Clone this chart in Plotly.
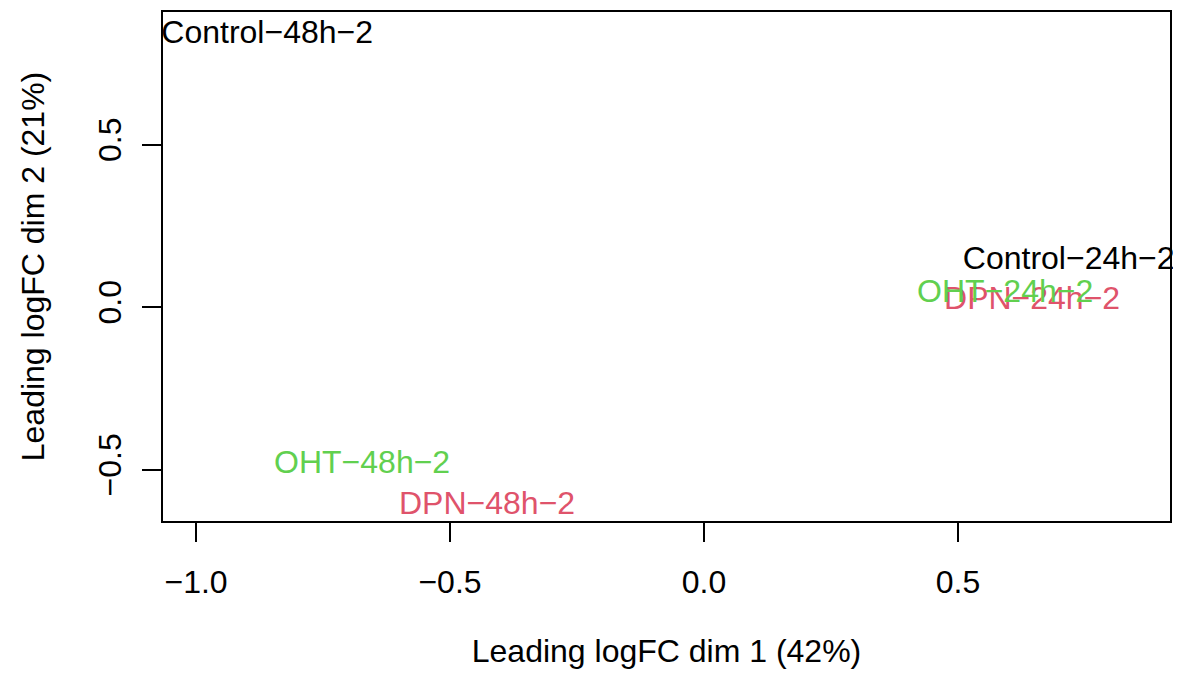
import plotly.graph_objects as go

labels = ["Control−24h−2", "Control−48h−2", "DPN−24h−2", "DPN−48h−2", "OHT−24h−2", "OHT−48h−2"]
dim1 = [0.718, -0.860, 0.646, -0.427, 0.593, -0.673]
dim2 = [0.142, 0.837, 0.019, -0.611, 0.040, -0.485]
colors = ["#000000", "#000000", "#DF536B", "#DF536B", "#61D04F", "#61D04F"]

FONT = "Liberation Sans, Arial, sans-serif"
FS = 32

fig = go.Figure()
fig.add_trace(go.Scatter(
    x=dim1, y=dim2, mode="text", text=labels,
    textposition="middle center",
    textfont=dict(family=FONT, size=FS, color=colors),
    cliponaxis=False, hoverinfo="skip", showlegend=False,
))

axis_common = dict(
    showgrid=False, zeroline=False, showline=True, linecolor="black", linewidth=1.5,
    mirror=True, ticks="outside", ticklen=19, tickwidth=1.5, tickcolor="black",
    tickfont=dict(family=FONT, size=FS, color="black"),
)
fig.update_xaxes(range=[-1.065, 0.9175], tickvals=[-1.0, -0.5, 0.0, 0.5],
                 ticktext=["−1.0", "−0.5", "0.0", "0.5"],
                 ticklabelstandoff=13,
                 title=dict(text="Leading logFC dim 1 (42%)", font=dict(family=FONT, size=FS, color="black"), standoff=40),
                 **axis_common)
fig.update_yaxes(range=[-0.658, 0.9077], tickvals=[-0.5, 0.0, 0.5],
                 ticktext=["−0.5", "0.0", "0.5"], tickangle=-90,
                 ticklabelstandoff=8,
                 title=dict(text="Leading logFC dim 2 (21%)", font=dict(family=FONT, size=FS, color="black"), standoff=38),
                 **axis_common)
fig.update_layout(
    width=1165, height=665,
    margin=dict(l=155, r=1, t=4, b=152),
    plot_bgcolor="white", paper_bgcolor="white",
)
fig.write_html("out.html")
